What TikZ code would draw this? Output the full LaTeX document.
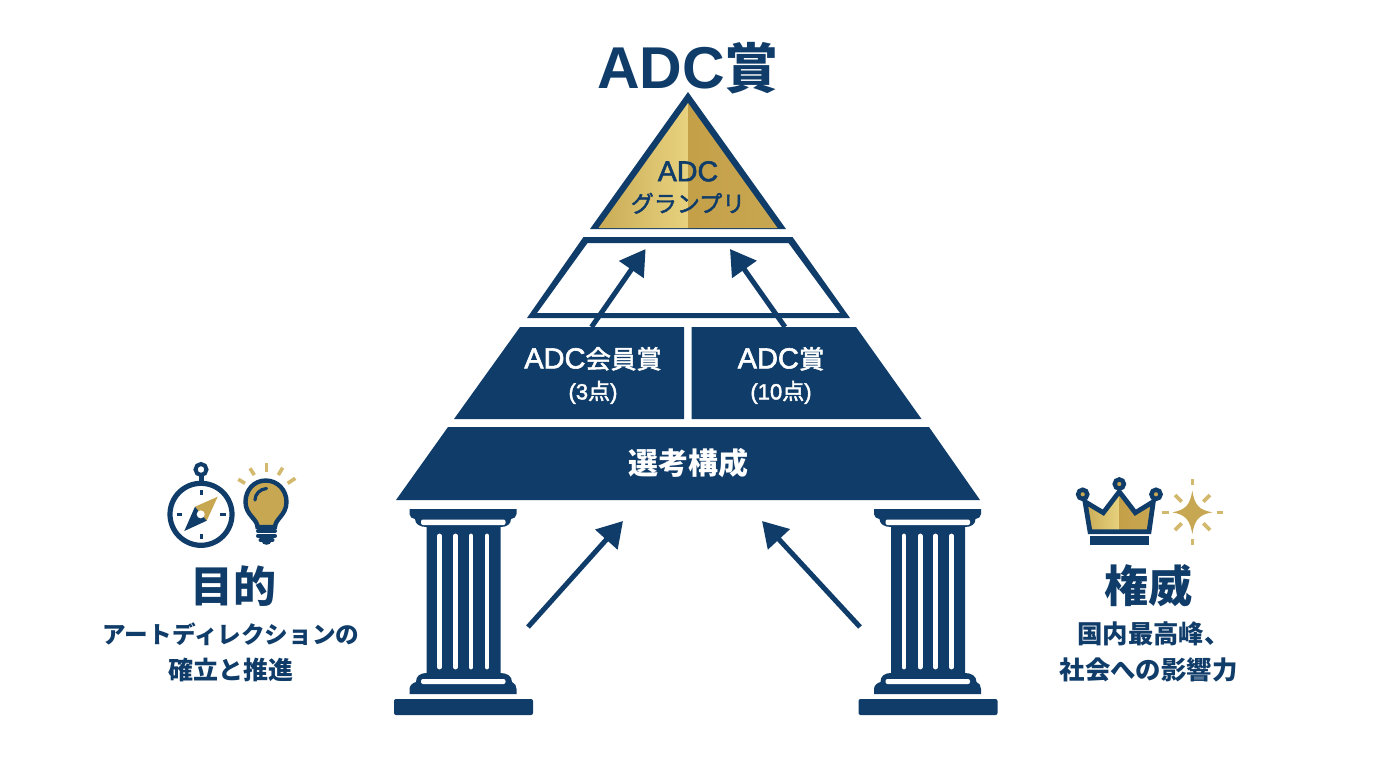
\documentclass[tikz,border=0pt]{standalone}
\usepackage{fontspec}
\setmainfont{Liberation Sans}
\newfontfamily\jp{Noto Sans CJK JP}
\newfontfamily\jpm{Noto Sans CJK JP}[FakeBold=2]
\newfontfamily\lsm{Liberation Sans}[FakeBold=2]
\usetikzlibrary{arrows.meta}
\definecolor{navy}{HTML}{103C69}
\definecolor{goldL}{HTML}{E8D27F}
\definecolor{goldD}{HTML}{C9AB55}
\definecolor{goldR}{HTML}{C4A048}
\definecolor{goldM}{HTML}{C8A752}
\definecolor{goldRay}{HTML}{D3B96E}
\newcommand{\J}[1]{{\jp #1}}
\newcommand{\M}[1]{{\jpm #1}}
\tikzset{
  flow/.style={draw=navy,line width=2.5pt,-{Triangle[length=12.5pt,width=14.5pt]}},
  lbl/.style={inner sep=0pt,outer sep=0pt,align=center,text=navy},
  ray/.style={draw=goldRay,line width=1.8pt},
  tick/.style={draw=navy,line width=1.5pt},
  screw/.style={draw=navy,line width=2pt,line cap=round},
  flute/.style={draw=white,line width=2.4pt,line cap=round}
}
\begin{document}
\begin{tikzpicture}[x=0.5pt,y=-0.5pt]
\useasboundingbox (0,0) rectangle (1376,768);
\fill[white] (0,0) rectangle (1376,768);

% title
\node[lbl,font=\bfseries\fontsize{29.5pt}{32pt}\selectfont] (title) at (688,68) {ADC\J{\fontsize{27pt}{32pt}\selectfont 賞}};

% apex triangle
\fill[navy] (688,92) -- (786,229) -- (590,229) -- cycle;
\shade[left color=goldD,right color=goldL] (688,103) -- (688,228) -- (598.5,228) -- cycle;
\shade[left color=goldR,right color=goldM] (688,103) -- (777.5,228) -- (688,228) -- cycle;
\node[lbl,font=\lsm\fontsize{14.3pt}{15.5pt}\selectfont] (grand) at (688,187.5) {ADC\\\M{\fontsize{11.5pt}{15.5pt}\selectfont グランプリ}};

% empty tier
\fill[navy,even odd rule] (583.5,237) -- (792.5,237) -- (850,318) -- (527,318) -- cycle
  (587.5,243) -- (788.5,243) -- (840,313) -- (537,313) -- cycle;

% award tier
\fill[navy] (520,327) -- (684,327) -- (684,419) -- (454,419) -- cycle;
\fill[navy] (691.5,327) -- (856,327) -- (921.5,419) -- (691.5,419) -- cycle;
\node[lbl,text=white,font=\lsm\fontsize{14.5pt}{15.5pt}\selectfont] (member) at (593,375.5) {ADC\M{\fontsize{12.7pt}{15.5pt}\selectfont 会員賞}\\{\lsm\fontsize{11pt}{15.5pt}\selectfont (3\M{点})}};
\node[lbl,text=white,font=\lsm\fontsize{14.5pt}{15.5pt}\selectfont] (adc) at (781,375.5) {ADC\M{\fontsize{12.7pt}{15.5pt}\selectfont 賞}\\{\lsm\fontsize{11pt}{15.5pt}\selectfont (10\M{点})}};

% base tier
\fill[navy] (448,427) -- (929,427) -- (980,500) -- (396,500) -- cycle;
\node[lbl,text=white,font=\bfseries\fontsize{15pt}{18pt}\selectfont] (sel) at (688,463.5) {\J{選考構成}};

% pillars
\foreach \dx in {0,464.5}{
\begin{scope}[shift={(\dx,0)}]
  \fill[navy] (409.5,509) -- (516.5,509) -- (516.5,514) .. controls (516.5,517) and (514,518.5) .. (511,519)
    .. controls (511,524) and (507,527) .. (500.5,527) -- (500.5,673)
    .. controls (507,673) and (512,676) .. (512,682) .. controls (515,683) and (516.5,686) .. (516.5,689)
    -- (516.5,694) -- (409.5,694) -- (409.5,689) .. controls (409.5,686) and (412,683) .. (416,682)
    .. controls (416,676) and (420,673) .. (426.5,673) -- (426.5,527)
    .. controls (420,527) and (415,524) .. (415,519) .. controls (412,518.5) and (409.5,517) .. (409.5,514) -- cycle;
  \fill[white,rounded corners=1pt] (421,519.5) rectangle (505.5,525);
  \fill[white,rounded corners=1pt] (421,679) rectangle (505.5,684);
  \foreach \fx in {439.4,455.6,471,487}{\draw[flute] (\fx,536) -- (\fx,667);}
  \fill[navy,rounded corners=1pt] (394,699) rectangle (533,715);
\end{scope}}

% arrows
\coordinate (a1s) at (591.5,327); \coordinate (a1e) at (645.6,249);
\coordinate (a2s) at (785,327);   \coordinate (a2e) at (730,249);
\coordinate (a3s) at (528,627);   \coordinate (a3e) at (623,521);
\coordinate (a4s) at (860,627);   \coordinate (a4e) at (762,521);
\draw[flow] (a1s) -- (a1e);
\draw[flow] (a2s) -- (a2e);
\draw[flow] (a3s) -- (a3e);
\draw[flow] (a4s) -- (a4e);

% compass
\draw[navy,line width=2pt] (201,469.5) circle[radius=5.5];
\fill[navy] (198.5,474) rectangle (203.5,483);
\draw[navy,line width=2.6pt] (201,514.3) circle[radius=31];
\draw[tick] (201,490) -- (201,495);
\draw[tick] (201,534) -- (201,539);
\draw[tick] (176.5,514.3) -- (182,514.3);
\draw[tick] (220,514.3) -- (225.5,514.3);
\fill[goldM] (217.7,496.7) -- (195,506.7) -- (206.7,520.7) -- cycle;
\fill[navy] (184.3,531) -- (195,506.7) -- (206.7,520.7) -- cycle;
\fill[white] (200.7,514.3) circle[radius=4];

% bulb
\fill[goldM,draw=navy,line width=2.2pt] (257.5,527) .. controls (257.5,519) and (245.5,515) .. (245.5,502)
  .. controls (245.5,490) and (254,480.5) .. (265.7,480.5) .. controls (277.5,480.5) and (286.5,490) .. (286.5,502)
  .. controls (286.5,515) and (275,519) .. (275,527) -- cycle;
\draw[navy,line width=1.6pt,line cap=round] (255,500) .. controls (255,494) and (260,489) .. (266.5,488.5);
\draw[screw] (258,531) -- (275,531);
\draw[screw] (258,535.7) -- (275,535.7);
\draw[screw] (260.5,540) -- (272.5,540);
\fill[navy] (261.5,541) -- (271.5,541) .. controls (271,546) and (262,546) .. (261.5,541) -- cycle;
\draw[ray] (238.3,479.3) -- (245,483.3);
\draw[ray] (250,468.3) -- (254.3,475);
\draw[ray] (266.3,463.3) -- (266.3,472.3);
\draw[ray] (282.7,467.7) -- (278.3,475);
\draw[ray] (295.3,478.3) -- (287.7,483.3);

% crown
\shade[left color=goldD,right color=goldL] (1119.3,491.7) -- (1119.3,531.7) -- (1090,531.7) -- (1085,501.7) -- (1103.3,512.7) -- cycle;
\shade[left color=goldR,right color=goldM] (1119.3,491.7) -- (1135.3,512.7) -- (1153.3,501.7) -- (1150,531.7) -- (1119.3,531.7) -- cycle;
\draw[navy,line width=2.4pt,line join=miter] (1119.3,491.7) -- (1135.3,512.7) -- (1153.3,501.7) -- (1149,531.7) -- (1090,531.7) -- (1085,501.7) -- (1103.3,512.7) -- cycle;
\fill[navy] (1090,536) rectangle (1148.7,545);
\foreach \bx/\by in {1082.7/494.3,1119.3/484,1156/494.3}{
  \fill[goldM,draw=navy,line width=2.2pt] (\bx,\by) circle[radius=4.6];
}

% star
\fill[goldM] (1192.3,490.7) .. controls (1194.5,505) and (1199,510) .. (1212.3,512.3)
  .. controls (1199,514.5) and (1194.5,520) .. (1192.3,534)
  .. controls (1190,520) and (1185.5,514.5) .. (1172.3,512.3)
  .. controls (1185.5,510) and (1190,505) .. (1192.3,490.7) -- cycle;
\draw[ray] (1192.3,479.3) -- (1192.3,485);
\draw[ray] (1192.3,539.3) -- (1192.3,545);
\draw[ray] (1162.3,512.3) -- (1169,512.3);
\draw[ray] (1216.7,512.3) -- (1223.3,512.3);
\draw[ray] (1175,495) -- (1181.7,501.7);
\draw[ray] (1210,495) -- (1203.3,501.7);
\draw[ray] (1175,530) -- (1181.7,523.3);
\draw[ray] (1210,530) -- (1203.3,523.3);

% side labels
\node[lbl,font=\bfseries\fontsize{21.5pt}{24pt}\selectfont] (pur) at (233,586) {\J{目的}};
\node[lbl,font=\bfseries\fontsize{11.8pt}{18pt}\selectfont] (purt) at (231,652) {\J{アートディレクションの}\\\J{\fontsize{12.5pt}{18pt}\selectfont 確立と推進}};
\node[lbl,font=\bfseries\fontsize{22pt}{24pt}\selectfont] (aut) at (1148.5,586) {\J{権威}};
\node[lbl,font=\bfseries\fontsize{12.7pt}{18pt}\selectfont] (autt) at (1148.5,652) {\hspace*{5pt}\J{国内最高峰、}\\\J{社会への影響力}};
\end{tikzpicture}
\end{document}
